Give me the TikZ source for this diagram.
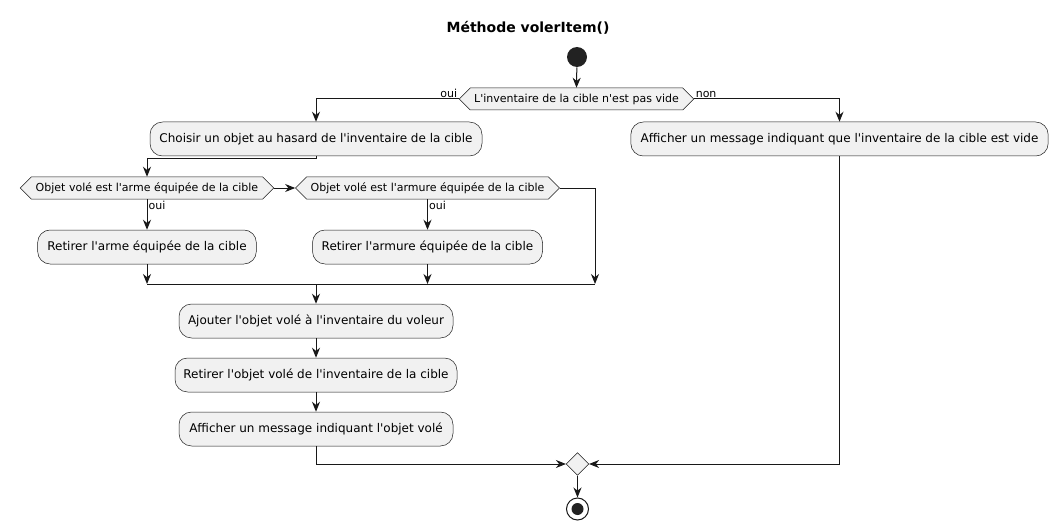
\documentclass[tikz,border=0pt]{standalone}
\usepackage{fontspec}
\setmainfont{DejaVu Sans}
\usetikzlibrary{arrows.meta,shapes.geometric,shapes.symbols}
\newcommand{\apos}{\textquotesingle}
\definecolor{linec}{HTML}{181818}
\definecolor{boxfill}{HTML}{F1F1F1}
\definecolor{startc}{HTML}{222222}
\tikzset{
  act/.style={draw=linec, line width=0.375pt, fill=boxfill, rounded corners=9.4pt,
    minimum height=25.5pt, inner sep=0pt, font=\fontsize{9}{11}\selectfont, text=black},
  cond/.style={shape=signal, signal to=west and east, signal pointer angle=90,
    draw=linec, line width=0.375pt, fill=boxfill, minimum height=16.5pt, inner sep=0pt,
    font=\fontsize{8.25}{10}\selectfont},
  lbl/.style={font=\fontsize{8.25}{10}\selectfont, inner sep=1pt},
  conn/.style={draw=linec, line width=0.75pt, -{Stealth[length=7.5pt,width=6pt,inset=2.4pt]}},
  plain/.style={draw=linec, line width=0.75pt},
}
\begin{document}
\begin{tikzpicture}[x=0.75pt,y=-0.75pt]
\useasboundingbox (0,0) rectangle (1058,528);
\node[font=\fontsize{10.5}{12}\selectfont\bfseries] (title) at (528,28) {Méthode volerItem()};
\node[circle, fill=startc, minimum size=15pt, inner sep=0pt] (start) at (577,57) {};
\node[cond, minimum width=176pt] (d1) at (576.5,99) {L\apos inventaire de la cible n\apos est pas vide};
\node[act, minimum width=249pt] (b1) at (316,139) {Choisir un objet au hasard de l\apos inventaire de la cible};
\node[act, minimum width=313pt] (b2) at (839.5,139) {Afficher un message indiquant que l\apos inventaire de la cible est vide};
\node[cond, minimum width=190pt] (d2) at (147,188) {Objet volé est l\apos arme équipée de la cible};
\node[cond, minimum width=198pt] (d3) at (427.5,188) {Objet volé est l\apos armure équipée de la cible};
\node[act, minimum width=164pt] (b3) at (147,247) {Retirer l\apos arme équipée de la cible};
\node[act, minimum width=172.5pt] (b4) at (427.5,247) {Retirer l\apos armure équipée de la cible};
\node[act, minimum width=205.5pt] (b5) at (316,321) {Ajouter l\apos objet volé à l\apos inventaire du voleur};
\node[act, minimum width=211.5pt] (b6) at (316,375) {Retirer l\apos objet volé de l\apos inventaire de la cible};
\node[act, minimum width=205.5pt] (b7) at (316,429) {Afficher un message indiquant l\apos objet volé};
\node[diamond, draw=linec, line width=0.375pt, fill=boxfill, minimum width=17pt, minimum height=17pt, inner sep=0pt] (merge) at (577.5,464) {};
\node[circle, draw=linec, line width=0.75pt, fill=white, minimum size=16.5pt, inner sep=0pt] (end) at (577.5,509) {};
\node[circle, fill=startc, minimum size=9pt, inner sep=0pt] (endin) at (577.5,509) {};
\coordinate (c1) at (316,159);
\coordinate (j1) at (147,284);
\coordinate (j2) at (427.5,284);
\coordinate (j3) at (595,284);
\coordinate (jm) at (316,284);
% connectors
\draw[conn] (start) -- (d1.north);
\draw[conn] (d1.west) -| (b1.north);
\node[lbl, anchor=south east] (oui1) at (d1.west) {oui};
\draw[conn] (d1.east) -| (b2.north);
\node[lbl, anchor=south west] (non1) at (d1.east) {non};
\draw[plain] (b1.south) -- (c1);
\draw[conn] (c1) -| (d2.north);
\draw[conn] (d2.east) -- (d3.west);
\draw[conn] (d2.south) -- (b3.north);
\node[lbl, anchor=north west] (oui2) at (d2.south) {oui};
\draw[conn] (d3.south) -- (b4.north);
\node[lbl, anchor=north west] (oui3) at (d3.south) {oui};
\draw[conn] (d3.east) -| (j3);
\draw[conn] (b3.south) -- (j1);
\draw[conn] (b4.south) -- (j2);
\draw[plain] (j1) -- (j3);
\draw[conn] (jm) -- (b5.north);
\draw[conn] (b5) -- (b6);
\draw[conn] (b6) -- (b7);
\draw[conn] (b7.south) |- (merge.west);
\draw[conn] (b2.south) |- (merge.east);
\draw[conn] (merge.south) -- (end.north);
\end{tikzpicture}
\end{document}
